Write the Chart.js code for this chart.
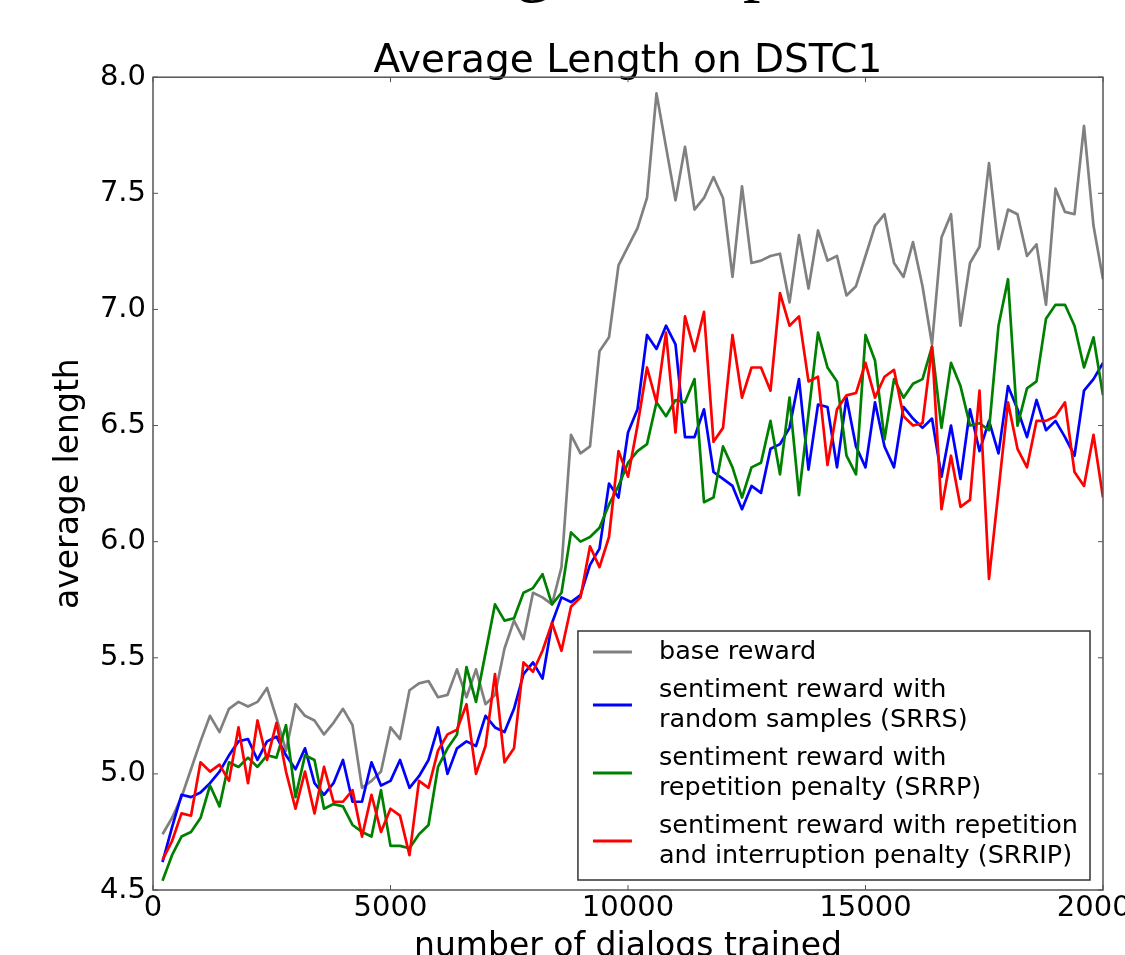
<!DOCTYPE html>
<html>
<head>
<meta charset="utf-8">
<script src="https://cdn.jsdelivr.net/npm/chart.js@4.4.0/dist/chart.umd.min.js"></script>
<style>
  html, body { margin: 0; padding: 0; background: #fff; }
  #wrap { position: relative; width: 1125px; height: 955px; overflow: hidden; }
  #frag { position: absolute; top: -70px; left: 0; font-family: "Liberation Serif"; font-size: 70px; line-height: 70px; color: #000; }
  #frag span { position: absolute; top: 0; }
  canvas { position: absolute; left: 0; top: 0; }
</style>
</head>
<body>
<div id="wrap">
  <div id="frag"><span style="left:516px">g</span><span style="left:743px">p</span></div>
  <canvas id="myChart" width="1125" height="1000"></canvas>
</div>
<script>
// number of dialogs trained (x values)
const dialogs = [
  200, 400, 600, 800, 1000, 1200, 1400, 1600, 1800, 2000,
  2200, 2400, 2600, 2800, 3000, 3200, 3400, 3600, 3800, 4000,
  4200, 4400, 4600, 4800, 5000, 5200, 5400, 5600, 5800, 6000,
  6200, 6400, 6600, 6800, 7000, 7200, 7400, 7600, 7800, 8000,
  8200, 8400, 8600, 8800, 9000, 9200, 9400, 9600, 9800, 10000,
  10200, 10400, 10600, 10800, 11000, 11200, 11400, 11600, 11800, 12000,
  12200, 12400, 12600, 12800, 13000, 13200, 13400, 13600, 13800, 14000,
  14200, 14400, 14600, 14800, 15000, 15200, 15400, 15600, 15800, 16000,
  16200, 16400, 16600, 16800, 17000, 17200, 17400, 17600, 17800, 18000,
  18200, 18400, 18600, 18800, 19000, 19200, 19400, 19600, 19800, 20000
];

const baseReward = [
  4.74, 4.81, 4.90, 5.02, 5.14, 5.25, 5.18, 5.28, 5.31, 5.29,
  5.31, 5.37, 5.24, 5.10, 5.30, 5.25, 5.23, 5.17, 5.22, 5.28,
  5.21, 4.94, 4.97, 5.01, 5.20, 5.15, 5.36, 5.39, 5.40, 5.33,
  5.34, 5.45, 5.33, 5.45, 5.30, 5.34, 5.54, 5.66, 5.58, 5.78,
  5.76, 5.73, 5.89, 6.46, 6.38, 6.41, 6.82, 6.88, 7.19, 7.27,
  7.35, 7.48, 7.93, 7.70, 7.47, 7.70, 7.43, 7.48, 7.57, 7.48,
  7.14, 7.53, 7.20, 7.21, 7.23, 7.24, 7.03, 7.32, 7.09, 7.34,
  7.21, 7.23, 7.06, 7.10, 7.23, 7.36, 7.41, 7.20, 7.14, 7.29,
  7.10, 6.85, 7.31, 7.41, 6.93, 7.20, 7.27, 7.63, 7.26, 7.43,
  7.41, 7.23, 7.28, 7.02, 7.52, 7.42, 7.41, 7.79, 7.36, 7.13
];

const srrs = [
  4.62, 4.77, 4.91, 4.90, 4.92, 4.96, 5.01, 5.08, 5.14, 5.15,
  5.06, 5.14, 5.16, 5.08, 5.02, 5.11, 4.96, 4.91, 4.96, 5.06,
  4.88, 4.88, 5.05, 4.95, 4.97, 5.06, 4.94, 4.99, 5.06, 5.20,
  5.00, 5.11, 5.14, 5.12, 5.25, 5.20, 5.18, 5.28, 5.43, 5.48,
  5.41, 5.65, 5.76, 5.74, 5.77, 5.90, 5.97, 6.25, 6.19, 6.47,
  6.57, 6.89, 6.83, 6.93, 6.85, 6.45, 6.45, 6.57, 6.30, 6.27,
  6.24, 6.14, 6.24, 6.21, 6.40, 6.42, 6.49, 6.70, 6.31, 6.59,
  6.58, 6.32, 6.62, 6.41, 6.32, 6.60, 6.41, 6.32, 6.58, 6.53,
  6.49, 6.53, 6.28, 6.50, 6.27, 6.57, 6.39, 6.52, 6.38, 6.67,
  6.57, 6.45, 6.61, 6.48, 6.52, 6.45, 6.37, 6.65, 6.70, 6.77
];

const srrp = [
  4.54, 4.65, 4.73, 4.75, 4.81, 4.95, 4.86, 5.05, 5.03, 5.07,
  5.03, 5.08, 5.07, 5.21, 4.90, 5.08, 5.06, 4.85, 4.87, 4.86,
  4.78, 4.75, 4.73, 4.93, 4.69, 4.69, 4.68, 4.74, 4.78, 5.03,
  5.11, 5.17, 5.46, 5.31, 5.52, 5.73, 5.66, 5.67, 5.78, 5.80,
  5.86, 5.73, 5.78, 6.04, 6.00, 6.02, 6.06, 6.16, 6.24, 6.34,
  6.39, 6.42, 6.60, 6.54, 6.61, 6.60, 6.70, 6.17, 6.19, 6.41,
  6.32, 6.19, 6.32, 6.34, 6.52, 6.29, 6.62, 6.20, 6.55, 6.90,
  6.75, 6.69, 6.37, 6.29, 6.89, 6.78, 6.44, 6.70, 6.62, 6.68,
  6.70, 6.84, 6.49, 6.77, 6.67, 6.50, 6.51, 6.48, 6.93, 7.13,
  6.50, 6.66, 6.69, 6.96, 7.02, 7.02, 6.93, 6.75, 6.88, 6.63
];

const srrip = [
  4.63, 4.71, 4.83, 4.82, 5.05, 5.01, 5.04, 4.97, 5.20, 4.96,
  5.23, 5.06, 5.22, 5.01, 4.85, 5.01, 4.83, 5.03, 4.88, 4.88,
  4.93, 4.73, 4.91, 4.75, 4.85, 4.82, 4.65, 4.97, 4.94, 5.10,
  5.17, 5.19, 5.30, 5.00, 5.12, 5.43, 5.05, 5.11, 5.48, 5.44,
  5.53, 5.65, 5.53, 5.72, 5.76, 5.98, 5.89, 6.02, 6.39, 6.28,
  6.50, 6.75, 6.60, 6.90, 6.47, 6.97, 6.82, 6.99, 6.43, 6.49,
  6.89, 6.62, 6.75, 6.75, 6.65, 7.07, 6.93, 6.97, 6.69, 6.71,
  6.33, 6.57, 6.63, 6.64, 6.77, 6.62, 6.71, 6.74, 6.54, 6.50,
  6.51, 6.84, 6.14, 6.37, 6.15, 6.18, 6.65, 5.84, 6.22, 6.60,
  6.40, 6.32, 6.52, 6.52, 6.54, 6.60, 6.30, 6.24, 6.46, 6.19
];

const legendLabels = [
  ['base reward'],
  ['sentiment reward with', 'random samples (SRRS)'],
  ['sentiment reward with', 'repetition penalty (SRRP)'],
  ['sentiment reward with repetition', 'and interruption penalty (SRRIP)']
];
const seriesColors = ['#808080', '#0000ff', '#008000', '#ff0000'];
const yTicks = [4.5, 5.0, 5.5, 6.0, 6.5, 7.0, 7.5, 8.0];
const xTicks = [0, 5000, 10000, 15000, 20000];

const FONT = '"DejaVu Sans"';

const toPoints = (vals) => dialogs.map((d, k) => ({ x: d, y: vals[k] }));

// axes box with small inward ticks, like matplotlib
const framePlugin = {
  id: 'frame',
  afterDatasetsDraw(chart) {
    const { ctx, chartArea: { left, right, top, bottom }, scales: { x, y } } = chart;
    ctx.save();
    ctx.strokeStyle = '#555';
    ctx.lineWidth = 1.5;
    ctx.strokeRect(left, top, right - left, bottom - top);
    ctx.lineWidth = 1;
    ctx.beginPath();
    xTicks.forEach(v => {
      const px = x.getPixelForValue(v);
      ctx.moveTo(px, bottom); ctx.lineTo(px, bottom - 5);
      ctx.moveTo(px, top); ctx.lineTo(px, top + 5);
    });
    yTicks.forEach(v => {
      const py = y.getPixelForValue(v);
      ctx.moveTo(left, py); ctx.lineTo(left + 5, py);
      ctx.moveTo(right, py); ctx.lineTo(right - 5, py);
    });
    ctx.stroke();
    ctx.restore();
  }
};

// boxed legend in the lower right of the plot
const legendPlugin = {
  id: 'boxLegend',
  afterDraw(chart) {
    const { ctx, chartArea } = chart;
    const lineH = 30, gap = 8, padTop = 6, padBottom = 9;
    ctx.save();
    ctx.font = '25.5px ' + FONT;
    const widest = Math.max(...legendLabels.flat().map(s => ctx.measureText(s).width));
    const w = 15 + 39 + 27 + widest + 12;
    const h = padTop + padBottom + gap * (legendLabels.length - 1) +
      legendLabels.reduce((a, l) => a + l.length * lineH, 0);
    const bx = chartArea.right - 13 - w;
    const by = chartArea.bottom - 10 - h;
    ctx.fillStyle = '#fff';
    ctx.fillRect(bx, by, w, h);
    ctx.strokeStyle = '#333';
    ctx.lineWidth = 1.5;
    ctx.strokeRect(bx, by, w, h);

    let cy = by + padTop;
    chart.data.datasets.forEach((ds, i) => {
      const lines = legendLabels[i];
      const bh = lines.length * lineH;
      ctx.strokeStyle = ds.borderColor;
      ctx.lineWidth = 3;
      ctx.beginPath();
      ctx.moveTo(bx + 15, cy + bh / 2);
      ctx.lineTo(bx + 54, cy + bh / 2);
      ctx.stroke();
      ctx.fillStyle = '#000';
      ctx.textBaseline = 'middle';
      ctx.textAlign = 'left';
      lines.forEach((s, j) => ctx.fillText(s, bx + 81, cy + j * lineH + lineH / 2));
      cy += bh + gap;
    });
    ctx.restore();
  }
};

const ctx = document.getElementById('myChart').getContext('2d');

const chart = new Chart(ctx, {
  type: 'line',
  data: {
    datasets: [
      { label: legendLabels[0].join(' '), data: toPoints(baseReward), borderColor: seriesColors[0], order: 4 },
      { label: legendLabels[1].join(' '), data: toPoints(srrs), borderColor: seriesColors[1], order: 3 },
      { label: legendLabels[2].join(' '), data: toPoints(srrp), borderColor: seriesColors[2], order: 2 },
      { label: legendLabels[3].join(' '), data: toPoints(srrip), borderColor: seriesColors[3], order: 1 }
    ]
  },
  options: {
    responsive: false,
    animation: false,
    events: [],
    layout: { padding: { left: 0, right: 22, top: 0, bottom: 0 } },
    elements: {
      line: { borderWidth: 2.7, tension: 0, fill: false, borderJoinStyle: 'round' },
      point: { radius: 0 }
    },
    plugins: {
      legend: { display: false },
      tooltip: { enabled: false },
      title: {
        display: true,
        fullSize: false,
        text: 'Average Length on DSTC1',
        color: '#000',
        font: { family: FONT, size: 39, weight: 'normal', lineHeight: 0.8 },
        padding: { top: 46, bottom: 0 }
      }
    },
    scales: {
      x: {
        type: 'linear',
        min: 0,
        max: 20000,
        afterBuildTicks: s => { s.ticks = xTicks.map(v => ({ value: v })); },
        afterFit: s => { s.height = 110; s.paddingLeft = 0; s.paddingRight = 0; },
        ticks: {
          autoSkip: false,
          maxRotation: 0,
          padding: 1,
          color: '#000',
          font: { family: FONT, size: 29 },
          callback: v => String(v)
        },
        grid: { display: false, drawTicks: false },
        border: { display: false },
        title: {
          display: true,
          text: 'number of dialogs trained',
          color: '#000',
          font: { family: FONT, size: 33 },
          padding: { top: 0, bottom: 33 }
        }
      },
      y: {
        min: 4.5,
        max: 8.0,
        afterBuildTicks: s => { s.ticks = yTicks.map(v => ({ value: v })); },
        afterFit: s => { s.width = 153; s.paddingTop = 0; s.paddingBottom = 0; },
        ticks: {
          autoSkip: false,
          padding: 7,
          color: '#000',
          font: { family: FONT, size: 29 },
          callback: v => v.toFixed(1)
        },
        grid: { display: false, drawTicks: false },
        border: { display: false },
        title: {
          display: true,
          text: 'average length',
          color: '#000',
          font: { family: FONT, size: 33 },
          padding: { top: 50, bottom: 0 }
        }
      }
    }
  },
  plugins: [framePlugin, legendPlugin]
});
</script>
</body>
</html>
